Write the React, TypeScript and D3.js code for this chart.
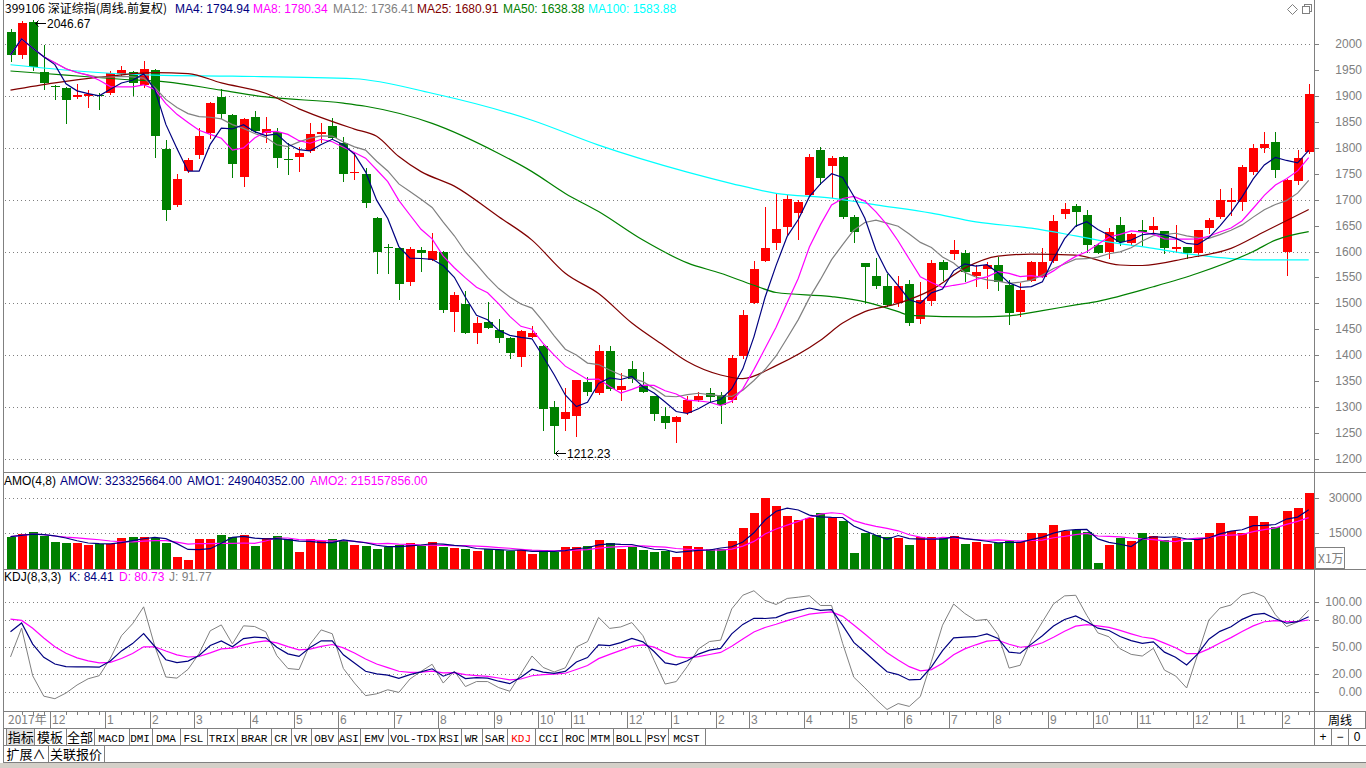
import React from "react";
import * as d3 from "d3";

// ---------- weekly OHLC (index 0 = week ending 2017-11-03) ----------
const opens = [
  2023, 1978, 2042, 1946, 1920, 1916, 1897, 1900, 1902, 1906,
  1942, 1946, 1921, 1950, 1798, 1690, 1755, 1786, 1828, 1897,
  1863, 1744, 1859, 1828, 1830, 1779, 1783, 1794, 1827, 1841,
  1809, 1751, 1749, 1665, 1608, 1606, 1542, 1603, 1584, 1600,
  1484, 1499, 1443, 1464, 1449, 1434, 1396, 1436, 1417, 1301,
  1278, 1283, 1349, 1327, 1409, 1333, 1373, 1342, 1321, 1283,
  1272, 1288, 1314, 1327, 1323, 1314, 1399, 1500, 1582, 1617,
  1648, 1674, 1709, 1796, 1764, 1783, 1667, 1577, 1552, 1533,
  1500, 1537, 1470, 1505, 1579, 1595, 1598, 1553, 1566, 1574,
  1535, 1484, 1544, 1550, 1582, 1672, 1688, 1670, 1613, 1600,
  1651, 1616, 1641, 1641, 1640, 1605, 1609, 1597, 1646, 1667,
  1695, 1695, 1754, 1800, 1811, 1600, 1735, 1792,
];
const highs = [
  2029, 2044, 2046.67, 1998, 1921, 1917, 1923, 1911, 1906, 1948,
  1958, 1948, 1967, 1952, 1815, 1749, 1781, 1839, 1889, 1913,
  1865, 1858, 1871, 1859, 1839, 1809, 1801, 1847, 1848, 1857,
  1821, 1790, 1761, 1667, 1614, 1606, 1608, 1608, 1636, 1601,
  1521, 1524, 1474, 1502, 1469, 1435, 1448, 1457, 1419, 1312,
  1336, 1353, 1358, 1419, 1418, 1365, 1389, 1368, 1321, 1301,
  1282, 1322, 1330, 1337, 1330, 1400, 1487, 1582, 1685, 1712,
  1709, 1699, 1788, 1801, 1784, 1785, 1670, 1578, 1587, 1557,
  1553, 1545, 1542, 1583, 1584, 1622, 1603, 1574, 1580, 1590,
  1545, 1539, 1582, 1607, 1670, 1693, 1692, 1680, 1617, 1646,
  1667, 1636, 1660, 1667, 1640, 1651, 1609, 1641, 1664, 1720,
  1722, 1767, 1807, 1831, 1831, 1739, 1796, 1923,
];
const lows = [
  1967, 1973, 1950, 1913, 1894, 1848, 1895, 1879, 1875, 1904,
  1940, 1902, 1918, 1783, 1660, 1688, 1753, 1781, 1819, 1857,
  1744, 1727, 1831, 1812, 1762, 1749, 1756, 1792, 1812, 1816,
  1736, 1740, 1686, 1558, 1558, 1509, 1535, 1563, 1584, 1484,
  1447, 1442, 1423, 1452, 1426, 1395, 1379, 1436, 1256, 1212.23,
  1255, 1245, 1323, 1326, 1333, 1314, 1349, 1329, 1275, 1259,
  1233, 1287, 1312, 1312, 1269, 1310, 1395, 1500, 1581, 1604,
  1634, 1625, 1709, 1731, 1706, 1665, 1619, 1501, 1529, 1494,
  1494, 1458, 1463, 1496, 1545, 1585, 1544, 1533, 1529, 1526,
  1460, 1476, 1544, 1550, 1580, 1664, 1649, 1600, 1598, 1587,
  1613, 1612, 1613, 1638, 1598, 1600, 1588, 1591, 1635, 1664,
  1670, 1680, 1749, 1792, 1743, 1555, 1730, 1790,
];
const closes = [
  1979, 2041, 1956, 1925, 1919, 1893, 1902, 1904, 1901, 1944,
  1950, 1925, 1952, 1823, 1680, 1740, 1776, 1823, 1887, 1866,
  1769, 1856, 1833, 1836, 1781, 1778, 1790, 1827, 1830, 1818,
  1749, 1753, 1694, 1600, 1607, 1537, 1605, 1597, 1601, 1487,
  1516, 1443, 1462, 1453, 1434, 1404, 1447, 1442, 1297, 1264,
  1291, 1352, 1330, 1409, 1334, 1340, 1354, 1329, 1286, 1270,
  1281, 1314, 1322, 1319, 1304, 1395, 1477, 1566, 1607, 1643,
  1701, 1696, 1783, 1741, 1780, 1667, 1638, 1571, 1534, 1497,
  1534, 1463, 1507, 1577, 1564, 1603, 1561, 1560, 1574, 1542,
  1482, 1526, 1579, 1579, 1659, 1682, 1676, 1613, 1598, 1638,
  1619, 1634, 1638, 1649, 1607, 1609, 1597, 1641, 1660, 1700,
  1699, 1762, 1799, 1807, 1758, 1738, 1780, 1904,
];
// weekly amount, unit 万
const amounts = [
  13414, 14571, 15557, 13714, 11271, 10843, 10843, 9857, 10286, 10286,
  12986, 13414, 13414, 12714, 10843, 4843, 3429, 12429, 12429, 14143,
  13414, 14143, 9557, 12986, 13714, 12429, 6986, 12429, 11700, 12429,
  11571, 9857, 9429, 8143, 9129, 9857, 10843, 9557, 11271, 9129,
  8700, 8143, 7414, 8143, 7714, 7143, 7714, 6000, 7714, 7000,
  9129, 9129, 9429, 12000, 10843, 8271, 9129, 7714, 7000, 7414,
  4571, 9429, 8871, 8014, 8014, 11571, 17000, 23700, 30000, 26571,
  22286, 20571, 21286, 23429, 21571, 20286, 6571, 15143, 14143, 13414,
  12986, 9857, 13414, 13414, 12714, 13714, 10414, 11271, 10414, 10843,
  11571, 11271, 14857, 15143, 18429, 15857, 16286, 15557, 2271, 9857,
  12986, 11700, 15143, 13714, 12000, 12714, 11271, 12714, 15143, 19414,
  15857, 15143, 22286, 19714, 17429, 24429, 25714, 32333,
];

// long moving averages: [week index, value]
const ma25Read: [number, number][] = [
  [0, 1911], [4, 1925], [8, 1936], [13, 1945], [16, 1943], [19, 1925], [23, 1905],
  [26, 1875], [31, 1836], [33, 1822], [35, 1783], [37, 1754], [40, 1726], [44, 1667],
  [47, 1622], [50, 1558], [53, 1519], [56, 1462], [59, 1417], [61, 1388], [64, 1362],
  [66, 1355], [69, 1380], [73, 1429], [75, 1462], [77, 1484], [80, 1500], [83, 1526],
  [86, 1568], [89, 1591], [92, 1595], [96, 1593], [100, 1574], [102, 1573], [106, 1587],
  [110, 1606], [113, 1638], [117, 1680.91],
];
const ma50Read: [number, number][] = [
  [0, 1948], [5, 1940], [10, 1932], [14, 1927], [19, 1911], [23, 1898], [30, 1886],
  [32, 1880], [38, 1847], [44, 1789], [47, 1754], [50, 1712], [53, 1677], [57, 1622],
  [61, 1578], [64, 1558], [67, 1535], [69, 1521], [74, 1513], [77, 1503], [80, 1484],
  [81, 1477], [87, 1474], [90, 1476], [93, 1486], [96, 1497], [98, 1504], [103, 1532],
  [107, 1558], [112, 1600], [114, 1622], [117, 1638.38],
];
const ma100Read: [number, number][] = [
  [0, 1960], [6, 1948], [13, 1940], [20, 1938], [31, 1933], [38, 1905], [47, 1853],
  [53, 1805], [61, 1753], [65, 1731], [69, 1712], [74, 1703], [78, 1690], [83, 1674],
  [87, 1657], [92, 1645], [96, 1630], [98, 1622], [103, 1606], [107, 1593], [112, 1584],
  [117, 1583.88],
];
const kdjSeed = { k: 67, d: 81 };

// axes
const priceTicks = [1200, 1250, 1300, 1350, 1400, 1450, 1500, 1550, 1600, 1650, 1700, 1750, 1800, 1850, 1900, 1950, 2000];
const priceGrid = [1200, 1300, 1400, 1500, 1600, 1700, 1800, 1900, 2000];
const volTicks = [15000, 30000];
const kdjTicks = [0, 20, 50, 80, 100];
const monthIdx = [4, 9, 13, 17, 22, 26, 30, 35, 39, 44, 48, 51, 56, 60, 64, 67, 72, 76, 81, 85, 89, 94, 98, 102, 107, 111, 115];
const monthLabels = ["12", "1", "2", "3", "4", "5", "6", "7", "8", "9", "10", "11", "12", "1", "2", "3", "4", "5", "6", "7", "8", "9", "10", "11", "12", "1", "2"];
const tabNames = ["指标", "模板", "全部", "MACD", "DMI", "DMA", "FSL", "TRIX", "BRAR", "CR", "VR", "OBV", "ASI", "EMV", "VOL-TDX", "RSI", "WR", "SAR", "KDJ", "CCI", "ROC", "MTM", "BOLL", "PSY", "MCST"];
const tabEdges = [6.9, 34.4, 65.7, 94.1, 128.6, 151.5, 180.4, 206.6, 237.4, 270.9, 290.6, 310.8, 337.5, 360.4, 388, 438.5, 460.5, 482.1, 507.3, 534.9, 562.4, 587.7, 612.9, 645.1, 668, 704.8];

const RED = "#ff0000";
const GREEN = "#008000";
const GRAY = "#808080";
const FONT = "'Liberation Sans', 'Noto Sans CJK SC', sans-serif";
const CJK = "'Noto Sans CJK SC', 'Liberation Sans', sans-serif";

function movingAvg(arr: number[], n: number) {
  return arr.map((_, i) => d3.mean(arr.slice(Math.max(0, i - n + 1), i + 1)) as number);
}

function Arrow({ x, y }: { x: number; y: number }) {
  // small left-pointing arrow, tip at (x, y)
  return (
    <g stroke="#000" fill="none" shapeRendering="crispEdges">
      <line x1={x} x2={x + 11} y1={y + 0.5} y2={y + 0.5} />
      <path d={`M${x + 3.5},${y - 2.5} L${x + 0.5},${y + 0.5} L${x + 3.5},${y + 3.5}`} shapeRendering="auto" />
    </g>
  );
}

export default function App() {
  const N = closes.length;
  const x = d3.scaleLinear().domain([0, N - 1]).range([10.5, 1308.7]);
  const yP = d3.scaleLinear().domain([1200, 2000]).range([459, 44]);
  const yV = d3.scaleLinear().domain([0, 30000]).range([568, 498]);
  const yK = d3.scaleLinear().domain([0, 100]).range([692, 602]);
  const px = (i: number) => Math.round(x(i));

  const ma4 = movingAvg(closes, 4);
  const ma8 = movingAvg(closes, 8);
  const ma12 = movingAvg(closes, 12);
  const amo1 = movingAvg(amounts, 4);
  const amo2 = movingAvg(amounts, 8);

  const K: number[] = [], D: number[] = [], J: number[] = [];
  let k = kdjSeed.k, d = kdjSeed.d;
  for (let i = 0; i < N; i++) {
    const s = Math.max(0, i - 7);
    const hh = d3.max(highs.slice(s, i + 1)) as number;
    const ll = d3.min(lows.slice(s, i + 1)) as number;
    const rsv = hh === ll ? 50 : ((closes[i] - ll) / (hh - ll)) * 100;
    if (i > 0) {
      k = (2 * k + rsv) / 3;
      d = (2 * d + k) / 3;
    }
    K.push(k); D.push(d); J.push(3 * k - 2 * d);
  }

  const lineP = d3.line<number>().x((_, i) => x(i)).y((v) => yP(v));
  const lineV = d3.line<number>().x((_, i) => x(i)).y((v) => yV(v));
  const lineK = d3.line<number>().x((_, i) => x(i)).y((v) => yK(v));
  const lineRead = d3.line<[number, number]>().x((p) => x(p[0])).y((p) => yP(p[1])).curve(d3.curveMonotoneX);

  const header = [
    { t: "399106 深证综指(周线.前复权)", x: 5, c: "#000" },
    { t: "MA4: 1794.94", x: 175, c: "#000080" },
    { t: "MA8: 1780.34", x: 253, c: "#ff00ff" },
    { t: "MA12: 1736.41", x: 333, c: GRAY },
    { t: "MA25: 1680.91", x: 417, c: "#800000" },
    { t: "MA50: 1638.38", x: 503, c: GREEN },
    { t: "MA100: 1583.88", x: 588, c: "#00ffff" },
  ];
  const amoHeader = [
    { t: "AMO(4,8)", x: 4, c: "#000" },
    { t: "AMOW: 323325664.00", x: 60, c: "#000080" },
    { t: "AMO1: 249040352.00", x: 187, c: "#000080" },
    { t: "AMO2: 215157856.00", x: 310, c: "#ff00ff" },
  ];
  const kdjHeader = [
    { t: "KDJ(8,3,3)", x: 4, c: "#000" },
    { t: "K: 84.41", x: 69, c: "#000080" },
    { t: "D: 80.73", x: 119, c: "#ff00ff" },
    { t: "J: 91.77", x: 169, c: GRAY },
  ];

  const hiIdx = highs.indexOf(d3.max(highs) as number);
  const loIdx = lows.indexOf(d3.min(lows) as number);
  const hiY = Math.round(yP(highs[hiIdx])) + 3;
  const loY = Math.round(yP(lows[loIdx]));

  return (
    <svg width={1366} height={768} style={{ position: "absolute", left: 0, top: 0, background: "#fff" }} fontFamily={FONT} fontSize={12}>
      <rect x={0} y={0} width={1366} height={768} fill="#fff" />

      {/* grid lines */}
      {priceGrid.map((p) => (
        <line key={"pg" + p} x1={5} x2={1313} y1={Math.round(yP(p)) + 0.5} y2={Math.round(yP(p)) + 0.5} stroke={GRAY} strokeDasharray="1 3" />
      ))}
      {volTicks.map((v) => (
        <line key={"vg" + v} x1={5} x2={1313} y1={Math.round(yV(v)) + 0.5} y2={Math.round(yV(v)) + 0.5} stroke={GRAY} strokeDasharray="1 3" />
      ))}
      {kdjTicks.map((v) => (
        <line key={"kg" + v} x1={5} x2={1313} y1={Math.round(yK(v)) + 0.5} y2={Math.round(yK(v)) + 0.5} stroke={GRAY} strokeDasharray="1 3" />
      ))}

      {/* header */}
      {header.map((h) => (
        <text key={h.t} x={h.x} y={13} fill={h.c} fontFamily={h.x === 5 ? CJK : FONT}>{h.t}</text>
      ))}

      {/* candles */}
      {closes.map((c, i) => {
        const o = opens[i];
        const col = c >= o ? RED : GREEN;
        const cx = px(i);
        const top = Math.round(yP(Math.max(o, c)));
        const bot = Math.round(yP(Math.min(o, c)));
        return (
          <g key={"c" + i} shapeRendering="crispEdges">
            <line x1={cx + 0.5} x2={cx + 0.5} y1={Math.round(yP(highs[i]))} y2={Math.round(yP(lows[i])) + 1} stroke={col} />
            <rect x={cx - 4} y={top} width={9} height={Math.max(1, bot - top)} fill={col} />
          </g>
        );
      })}

      {/* moving averages */}
      <path d={lineRead(ma100Read) || ""} fill="none" stroke="#00ffff" strokeWidth={1.2} />
      <path d={lineRead(ma50Read) || ""} fill="none" stroke={GREEN} strokeWidth={1.2} />
      <path d={lineRead(ma25Read) || ""} fill="none" stroke="#800000" strokeWidth={1.2} />
      <path d={lineP(ma12) || ""} fill="none" stroke={GRAY} strokeWidth={1.2} />
      <path d={lineP(ma8) || ""} fill="none" stroke="#ff00ff" strokeWidth={1.2} />
      <path d={lineP(ma4) || ""} fill="none" stroke="#000080" strokeWidth={1.2} />

      {/* extreme annotations */}
      <Arrow x={px(hiIdx) + 2} y={hiY} />
      <text x={px(hiIdx) + 14} y={hiY + 5} fill="#000">{highs[hiIdx].toFixed(2)}</text>
      <Arrow x={px(loIdx) + 1} y={loY} />
      <text x={px(loIdx) + 13} y={loY + 5} fill="#000">{lows[loIdx].toFixed(2)}</text>

      {/* AMO panel */}
      {amoHeader.map((h) => (
        <text key={h.t} x={h.x} y={485} fill={h.c}>{h.t}</text>
      ))}
      {amounts.map((v, i) => {
        const col = closes[i] >= opens[i] ? RED : GREEN;
        const top = Math.round(yV(v));
        return <rect key={"v" + i} x={px(i) - 4} y={top} width={9} height={569 - top} fill={col} shapeRendering="crispEdges" />;
      })}
      <path d={lineV(amo2) || ""} fill="none" stroke="#ff00ff" strokeWidth={1.2} />
      <path d={lineV(amo1) || ""} fill="none" stroke="#000080" strokeWidth={1.2} />

      {/* KDJ panel */}
      {kdjHeader.map((h) => (
        <text key={h.t} x={h.x} y={581} fill={h.c}>{h.t}</text>
      ))}
      <path d={lineK(J) || ""} fill="none" stroke={GRAY} strokeWidth={1} />
      <path d={lineK(D) || ""} fill="none" stroke="#ff00ff" strokeWidth={1.2} />
      <path d={lineK(K) || ""} fill="none" stroke="#000080" strokeWidth={1.2} />

      {/* frame */}
      <g stroke={GRAY} shapeRendering="crispEdges">
        <line x1={3.5} x2={3.5} y1={0} y2={763} />
        <line x1={1314.5} x2={1314.5} y1={0} y2={712} />
        <line x1={3} x2={1366} y1={472.5} y2={472.5} />
        <line x1={3} x2={1366} y1={569.5} y2={569.5} />
        <line x1={3} x2={1366} y1={711.5} y2={711.5} />
        <line x1={3} x2={1366} y1={728.5} y2={728.5} />
        <line x1={3} x2={1366} y1={745.5} y2={745.5} />
        <line x1={3} x2={1366} y1={762.5} y2={762.5} />
      </g>
      <rect x={0} y={763} width={1366} height={5} fill="#d4d0c8" />

      {/* right axes */}
      {priceTicks.map((p) => (
        <g key={"pt" + p}>
          <line x1={1314} x2={1319} y1={Math.round(yP(p)) + 0.5} y2={Math.round(yP(p)) + 0.5} stroke={GRAY} />
          <text x={1362} y={Math.round(yP(p)) + 4} textAnchor="end" fill={GRAY}>{p}</text>
        </g>
      ))}
      {volTicks.map((v) => (
        <g key={"vt" + v}>
          <line x1={1314} x2={1319} y1={Math.round(yV(v)) + 0.5} y2={Math.round(yV(v)) + 0.5} stroke={GRAY} />
          <text x={1362} y={Math.round(yV(v)) + 4} textAnchor="end" fill={GRAY}>{v}</text>
        </g>
      ))}
      <rect x={1315.5} y={547.5} width={29} height={21} fill="none" stroke={GRAY} />
      <text x={1318} y={563} fill={GRAY} fontFamily={CJK}>X1万</text>
      {kdjTicks.map((v) => (
        <g key={"kt" + v}>
          <line x1={1314} x2={1319} y1={Math.round(yK(v)) + 0.5} y2={Math.round(yK(v)) + 0.5} stroke={GRAY} />
          <text x={1362} y={Math.round(yK(v)) + 4} textAnchor="end" fill={GRAY}>{v.toFixed(2)}</text>
        </g>
      ))}

      {/* top right icons */}
      <path d="M1292.5,4.5 L1297.5,9.5 L1292.5,14.5 L1287.5,9.5 Z" fill="none" stroke={GRAY} />
      <rect x={1304.5} y={4.5} width={7} height={7} fill="#fff" stroke={GRAY} />
      <rect x={1302.5} y={6.5} width={7} height={7} fill="#fff" stroke={GRAY} />

      {/* date axis */}
      <text x={8} y={724} fill={GRAY} fontFamily={CJK}>2017年</text>
      {closes.map((_, i) =>
        monthIdx.includes(i) || i === 0 ? null : (
          <line key={"wt" + i} x1={px(i) + 0.5} x2={px(i) + 0.5} y1={712} y2={715} stroke={GRAY} />
        )
      )}
      {monthIdx.map((m, j) => {
        const sx = px(m) - 5;
        return (
          <g key={"m" + j}>
            <line x1={sx + 0.5} x2={sx + 0.5} y1={712} y2={728} stroke={GRAY} />
            <text x={sx + 2} y={724} fill={GRAY}>{monthLabels[j]}</text>
          </g>
        );
      })}
      <rect x={1314.5} y={711.5} width={51} height={17} fill="#fff" stroke={GRAY} />
      <text x={1340} y={725} textAnchor="middle" fill="#000" fontFamily={CJK}>周线</text>
      <g stroke={GRAY}>
        <line x1={1314.5} x2={1314.5} y1={728} y2={746} />
        <line x1={1331.5} x2={1331.5} y1={728} y2={746} />
        <line x1={1348.5} x2={1348.5} y1={728} y2={746} />
      </g>
      <text x={1323} y={741} textAnchor="middle" fill="#000">+</text>
      <text x={1340} y={741} textAnchor="middle" fill="#000">−</text>
      <text x={1357} y={741} textAnchor="middle" fill="#000">0</text>

      {/* indicator tabs */}
      <rect x={tabEdges[0]} y={729} width={tabEdges[1] - tabEdges[0]} height={16} fill="#e4e4e4" />
      {tabNames.map((t, j) => {
        const x0 = tabEdges[j], x1 = tabEdges[j + 1];
        const cjk = /[\u4e00-\u9fff]/.test(t);
        return (
          <g key={"tab" + t}>
            <line x1={Math.round(x1) + 0.5} x2={Math.round(x1) + 0.5} y1={729} y2={745} stroke={GRAY} />
            <text x={(x0 + x1) / 2} y={741.5} textAnchor="middle" fill={t === "KDJ" ? RED : "#000"}
              fontFamily={cjk ? CJK : "'Liberation Mono', monospace"} fontSize={cjk ? 13 : 11}>{t}</text>
          </g>
        );
      })}
      <line x1={6.5} x2={6.5} y1={729} y2={745} stroke={GRAY} />

      {/* bottom row */}
      <text x={26} y={758.5} textAnchor="middle" fill="#000" fontFamily={CJK} fontSize={13}>扩展∧</text>
      <line x1={48.5} x2={48.5} y1={746} y2={762} stroke={GRAY} />
      <text x={76} y={758.5} textAnchor="middle" fill="#000" fontFamily={CJK} fontSize={13}>关联报价</text>
      <line x1={104.5} x2={104.5} y1={746} y2={762} stroke={GRAY} />
    </svg>
  );
}
